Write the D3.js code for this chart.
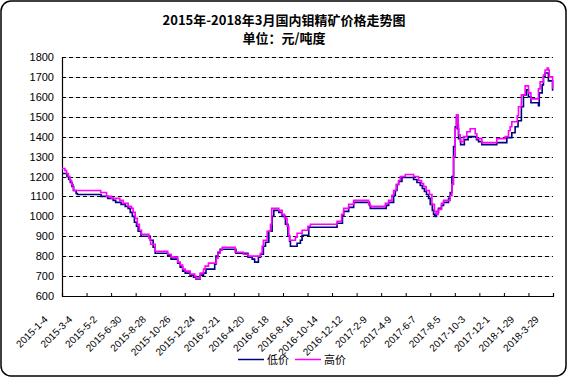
<!doctype html>
<html lang="zh">
<head>
  <meta charset="utf-8">
  <title>2015年-2018年3月国内钼精矿价格走势图</title>
  <style>
    html, body { margin: 0; padding: 0; background: #fff; }
    svg { display: block; }
    .title { font-family: "Noto Sans CJK SC", sans-serif; font-weight: bold; font-size: 13px; }
    .tick-label { font-family: "Liberation Sans", Arial, sans-serif; font-size: 11px; }
    .x-label { font-family: "Liberation Sans", Arial, sans-serif; font-size: 10px; }
    .legend { font-family: "Noto Sans CJK SC", sans-serif; font-size: 11px; }
  </style>
</head>
<body>
  <div id="chart"></div>
  <script src="https://d3js.org/d3.v7.min.js"></script>
  <script>
    // y axis values
    const yTicks = [600, 700, 800, 900, 1000, 1100, 1200, 1300, 1400, 1500, 1600, 1700, 1800];

    // x axis category labels (every 59 days)
    const xLabels = ["2015-1-4", "2015-3-4", "2015-5-2", "2015-6-30", "2015-8-28", "2015-10-26",
      "2015-12-24", "2016-2-21", "2016-4-20", "2016-6-18", "2016-8-16", "2016-10-14",
      "2016-12-12", "2017-2-9", "2017-4-9", "2017-6-7", "2017-8-5", "2017-10-3",
      "2017-12-1", "2018-1-29", "2018-3-29"];

    // 低价 : dates where the price changes, and the new price
    const lowDates = ["2015-01-04", "2015-01-16", "2015-01-20", "2015-01-24", "2015-01-28", "2015-02-01",
      "2015-02-07", "2015-02-10", "2015-04-08", "2015-04-24", "2015-05-07", "2015-05-13", "2015-05-26",
      "2015-06-05", "2015-06-12", "2015-06-17", "2015-06-22", "2015-06-27", "2015-07-02", "2015-07-06",
      "2015-07-13", "2015-08-04", "2015-08-11", "2015-08-16", "2015-09-15", "2015-09-23", "2015-10-09",
      "2015-10-15", "2015-10-21", "2015-10-27", "2015-11-08", "2015-11-16", "2015-11-22", "2015-12-02",
      "2015-12-10", "2015-12-16", "2016-01-06", "2016-01-09", "2016-01-14", "2016-01-19", "2016-02-26",
      "2016-03-26", "2016-04-05", "2016-04-11", "2016-04-20", "2016-04-25", "2016-05-02", "2016-05-07",
      "2016-05-15", "2016-05-23", "2016-05-27", "2016-06-08", "2016-06-16", "2016-06-24", "2016-06-30",
      "2016-07-04", "2016-07-06", "2016-07-22", "2016-07-30", "2016-08-03", "2016-08-19", "2016-10-26",
      "2016-11-08", "2016-11-11", "2016-11-23", "2016-12-05", "2017-01-12", "2017-01-14", "2017-02-21",
      "2017-02-27", "2017-03-11", "2017-03-15", "2017-03-19", "2017-03-23", "2017-03-31", "2017-04-28",
      "2017-05-06", "2017-05-14", "2017-05-19", "2017-05-24", "2017-05-29", "2017-06-03", "2017-06-07",
      "2017-06-12", "2017-06-15", "2017-06-18", "2017-06-22", "2017-06-27", "2017-07-04", "2017-07-09",
      "2017-07-21", "2017-07-25", "2017-07-29", "2017-08-02", "2017-08-06", "2017-08-09", "2017-08-12",
      "2017-08-14", "2017-08-19", "2017-08-28", "2017-09-06", "2017-09-26", "2017-10-01", "2017-10-09",
      "2017-11-14", "2017-12-08", "2017-12-20", "2017-12-28", "2018-01-04", "2018-01-12", "2018-01-17",
      "2018-01-24", "2018-01-29", "2018-02-04", "2018-02-22", "2018-02-24", "2018-03-03", "2018-03-06",
      "2018-03-10", "2018-03-18", "2018-03-28"];
    const lowValues = [1215, 1200, 1185, 1170, 1150, 1130,
      1115, 1110, 1100, 1090, 1080, 1070, 1060,
      1050, 1040, 1020, 1000, 970, 950, 925,
      900, 880, 845, 815, 805, 785, 765,
      745, 725, 715, 705, 695, 685, 705,
      715, 735, 760, 800, 820, 835, 815,
      795, 785, 770, 795, 810, 850, 870,
      925, 1000, 1030, 1020, 1000, 960, 900,
      875, 850, 865, 880, 905, 945, 965,
      1005, 1025, 1045, 1070, 1055, 1040, 1055,
      1070, 1105, 1130, 1160, 1175, 1195, 1185,
      1170, 1155, 1140, 1125, 1110, 1090, 1060,
      1030, 1010, 1000, 1020, 1040, 1055, 1070,
      1090, 1120, 1200, 1350, 1450, 1500, 1440,
      1390, 1360, 1385, 1400, 1385, 1375, 1360,
      1370, 1395, 1420, 1450, 1480, 1550, 1610,
      1635, 1600, 1570, 1555, 1620, 1660, 1700,
      1720, 1680, 1630];

    // 高价
    const highDates = ["2015-01-04", "2015-01-11", "2015-01-15", "2015-01-19", "2015-01-23", "2015-01-27",
      "2015-01-31", "2015-04-07", "2015-04-21", "2015-05-03", "2015-05-23", "2015-05-31", "2015-06-12",
      "2015-06-20", "2015-06-24", "2015-06-29", "2015-07-04", "2015-07-09", "2015-07-14", "2015-08-01",
      "2015-08-05", "2015-08-16", "2015-09-15", "2015-09-23", "2015-10-09", "2015-10-15", "2015-10-21",
      "2015-10-27", "2015-11-08", "2015-11-19", "2015-11-22", "2015-12-02", "2015-12-10", "2015-12-14",
      "2015-12-22", "2016-01-10", "2016-01-14", "2016-01-19", "2016-01-24", "2016-02-24", "2016-03-15",
      "2016-03-27", "2016-04-25", "2016-04-29", "2016-05-02", "2016-05-11", "2016-05-19", "2016-05-22",
      "2016-06-08", "2016-06-16", "2016-06-22", "2016-06-28", "2016-07-02", "2016-07-04", "2016-07-18",
      "2016-07-22", "2016-08-03", "2016-08-17", "2016-08-23", "2016-10-26", "2016-11-06", "2016-11-11",
      "2016-11-23", "2016-12-05", "2017-01-10", "2017-01-14", "2017-02-19", "2017-02-27", "2017-03-07",
      "2017-03-11", "2017-03-17", "2017-03-23", "2017-03-27", "2017-04-08", "2017-04-28", "2017-05-10",
      "2017-05-17", "2017-05-22", "2017-05-28", "2017-06-05", "2017-06-11", "2017-06-17", "2017-06-22",
      "2017-06-26", "2017-07-04", "2017-07-09", "2017-07-25", "2017-07-29", "2017-08-02", "2017-08-06",
      "2017-08-09", "2017-08-13", "2017-08-14", "2017-08-18", "2017-08-26", "2017-09-03", "2017-09-11",
      "2017-09-23", "2017-09-27", "2017-10-09", "2017-11-14", "2017-12-04", "2017-12-12", "2017-12-16",
      "2017-12-20", "2018-01-02", "2018-01-05", "2018-01-12", "2018-01-21", "2018-01-29", "2018-02-04",
      "2018-02-22", "2018-02-26", "2018-03-06", "2018-03-10", "2018-03-15", "2018-03-18", "2018-03-20",
      "2018-03-28"];
    const highValues = [1240, 1230, 1215, 1200, 1180, 1160,
      1130, 1120, 1100, 1090, 1080, 1065, 1050,
      1040, 1020, 990, 960, 930, 910, 890,
      860, 825, 810, 795, 770, 755, 735,
      725, 710, 700, 690, 715, 735, 750,
      765, 790, 815, 830, 845, 820, 810,
      800, 815, 850, 880, 925, 960, 1040,
      1030, 1010, 990, 950, 905, 880, 895,
      915, 930, 950, 960, 975, 1010, 1040,
      1060, 1080, 1060, 1050, 1065, 1080, 1105,
      1130, 1160, 1180, 1200, 1210, 1200, 1180,
      1165, 1150, 1130, 1110, 1060, 1025, 1010,
      1035, 1065, 1080, 1105, 1160, 1300, 1440,
      1510, 1460, 1410, 1375, 1400, 1425, 1440,
      1415, 1390, 1370, 1390, 1400, 1430, 1450,
      1475, 1505, 1550, 1610, 1655, 1620, 1590,
      1640, 1675, 1710, 1735, 1745, 1735, 1700,
      1640];

    const W = 567, H = 377;
    const parse = d3.timeParse("%Y-%m-%d");

    const svg = d3.select("#chart").append("svg")
      .attr("width", W)
      .attr("height", H);

    // outer frame
    svg.append("rect")
      .attr("x", 1).attr("y", 1)
      .attr("width", W - 2).attr("height", H - 2)
      .attr("rx", 10).attr("ry", 10)
      .attr("fill", "#fff")
      .attr("stroke", "#000")
      .attr("stroke-width", 1.5);

    svg.append("text").attr("class", "title")
      .attr("x", 284).attr("y", 25)
      .attr("text-anchor", "middle")
      .text("2015年-2018年3月国内钼精矿价格走势图");
    svg.append("text").attr("class", "title")
      .attr("x", 284).attr("y", 43)
      .attr("text-anchor", "middle")
      .text("单位：元/吨度");

    const x = d3.scaleTime()
      .domain([parse(xLabels[0]), parse(xLabels[xLabels.length - 1])])
      .range([62, 553]);
    const y = d3.scaleLinear()
      .domain([600, 1800])
      .range([296, 57]);

    // grid: pale green under black dashes
    const grid = svg.append("g");
    const gridVals = yTicks.filter(v => v > 600);
    grid.selectAll("line.bg").data(gridVals).enter().append("line")
      .attr("x1", 62).attr("x2", 553)
      .attr("y1", d => Math.round(y(d)) + 0.5).attr("y2", d => Math.round(y(d)) + 0.5)
      .attr("stroke", "#cfe9cf");
    grid.selectAll("line.fg").data(gridVals).enter().append("line")
      .attr("x1", 62).attr("x2", 553)
      .attr("y1", d => Math.round(y(d)) + 0.5).attr("y2", d => Math.round(y(d)) + 0.5)
      .attr("stroke", "#000")
      .attr("stroke-dasharray", "4,3");

    // y axis
    const yAxis = d3.axisLeft(y).tickValues(yTicks).tickSize(0).tickPadding(8)
      .tickFormat(d3.format("d"));
    const gy = svg.append("g").attr("transform", "translate(62,0)").call(yAxis);
    gy.select(".domain").attr("stroke", "#000").attr("stroke-width", 1.2);
    gy.selectAll("text").attr("class", "tick-label").attr("fill", "#000");

    // x axis
    const xAxis = d3.axisBottom(x)
      .tickValues(xLabels.map(parse))
      .tickSize(-3)
      .tickFormat((d, i) => xLabels[i]);
    const gx = svg.append("g").attr("transform", "translate(0,296)").call(xAxis);
    gx.select(".domain").attr("stroke", "#000").attr("stroke-width", 1.2);
    gx.selectAll(".tick line").attr("stroke", "#000");
    gx.selectAll("text")
      .attr("class", "x-label")
      .attr("fill", "#000")
      .attr("text-anchor", "end")
      .attr("dy", null)
      .attr("y", 0)
      .attr("transform", "translate(-14,24) rotate(-45)");

    const line = d3.line()
      .x(d => x(d[0]))
      .y(d => y(d[1]))
      .curve(d3.curveStepAfter);

    const lowData = lowDates.map((d, i) => [parse(d), lowValues[i]]);
    const highData = highDates.map((d, i) => [parse(d), highValues[i]]);

    svg.append("path").datum(lowData)
      .attr("fill", "none")
      .attr("stroke", "#000080")
      .attr("stroke-width", 1.6)
      .attr("d", line);
    svg.append("path").datum(highData)
      .attr("fill", "none")
      .attr("stroke", "#ff00ff")
      .attr("stroke-width", 1.6)
      .attr("d", line);

    // legend
    const legend = [["低价", "#000080", 238], ["高价", "#ff00ff", 295]];
    legend.forEach(([name, color, lx]) => {
      svg.append("line")
        .attr("x1", lx).attr("x2", lx + 26)
        .attr("y1", 359.5).attr("y2", 359.5)
        .attr("stroke", color).attr("stroke-width", 1.5);
      svg.append("text").attr("class", "legend")
        .attr("x", lx + 29).attr("y", 363.5)
        .text(name);
    });
  </script>
</body>
</html>
